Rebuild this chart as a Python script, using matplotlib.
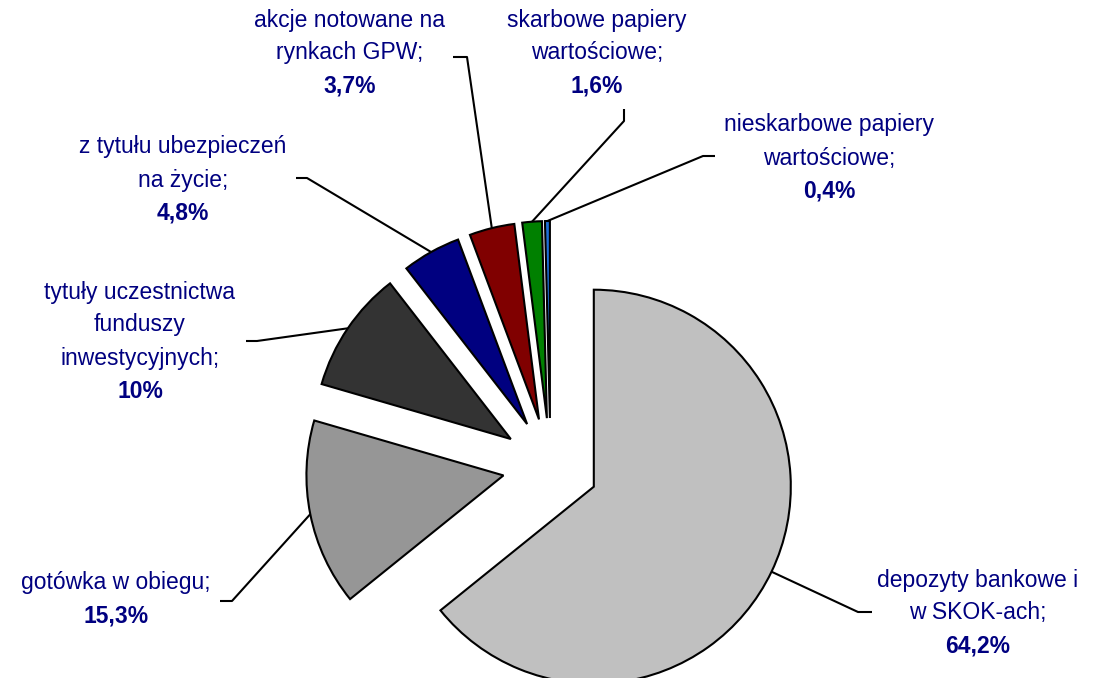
import matplotlib.pyplot as plt

plt.rcParams['font.family'] = ['Liberation Sans', 'DejaVu Sans']

# dane (udział w aktywach finansowych gospodarstw domowych)
names = [
    ["depozyty bankowe i", "w SKOK-ach;"],
    ["gotówka w obiegu;"],
    ["tytuły uczestnictwa", "funduszy", "inwestycyjnych;"],
    ["z tytułu ubezpieczeń", "na życie;"],
    ["akcje notowane na", "rynkach GPW;"],
    ["skarbowe papiery", "wartościowe;"],
    ["nieskarbowe papiery", "wartościowe;"],
]
values = [64.2, 15.3, 10.0, 4.8, 3.7, 1.6, 0.4]
pct_labels = ["64,2%", "15,3%", "10%", "4,8%", "3,7%", "1,6%", "0,4%"]
colors = ["#C0C0C0", "#969696", "#333333", "#000080", "#800000", "#008000", "#1F6FD6"]

# rozmieszczenie etykiet (środek pierwszej linii) i punkty załamania linii
label_pos = [(978, 580), (116, 583), (140, 292), (183, 147), (350, 20), (597, 20), (829, 125)]
elbows = [((872, 612), (858, 612)),
          ((220, 601), (232, 601)),
          ((246, 341), (257, 341)),
          ((296, 178), (307, 178)),
          ((453, 57), (467, 57)),
          ((624, 109), (624, 121)),
          ((715, 156), (703, 156))]

W, H = 1105, 678
fig = plt.figure(figsize=(W / 100, H / 100), dpi=100)
ax = fig.add_axes([0, 0, 1, 1])

def py(y):
    return H - y

wedges, _ = ax.pie(values, colors=colors, startangle=90, counterclock=False,
                   center=(550.5, py(466)), radius=197, explode=[48] * len(values),
                   wedgeprops=dict(edgecolor='black', linewidth=1.5))
ax.set_xlim(0, W)
ax.set_ylim(0, H)
ax.set_aspect('auto')
ax.axis('off')

import numpy as np
txt_color = '#000080'
line_h = 33
for w, lines, pct, (lx, ly), (e0, e1) in zip(wedges, names, pct_labels, label_pos, elbows):
    # linia odniesienia: etykieta -> załamanie -> środek łuku wycinka
    tm = np.deg2rad((w.theta1 + w.theta2) / 2)
    ax_x = w.center[0] + w.r * np.cos(tm)
    ax_y = w.center[1] + w.r * np.sin(tm)
    ax.plot([e0[0], e1[0], ax_x], [py(e0[1]), py(e1[1]), ax_y], color='black', lw=1.5,
            solid_capstyle='butt', zorder=3)
    for i, t in enumerate(lines):
        ax.text(lx, py(ly + i * line_h), t, ha='center', va='center',
                fontsize=16.5, color=txt_color)
    ax.text(lx, py(ly + len(lines) * line_h), pct, ha='center', va='center',
            fontsize=16.5, color=txt_color, fontweight='bold')

fig.savefig('out.png', dpi=100)
